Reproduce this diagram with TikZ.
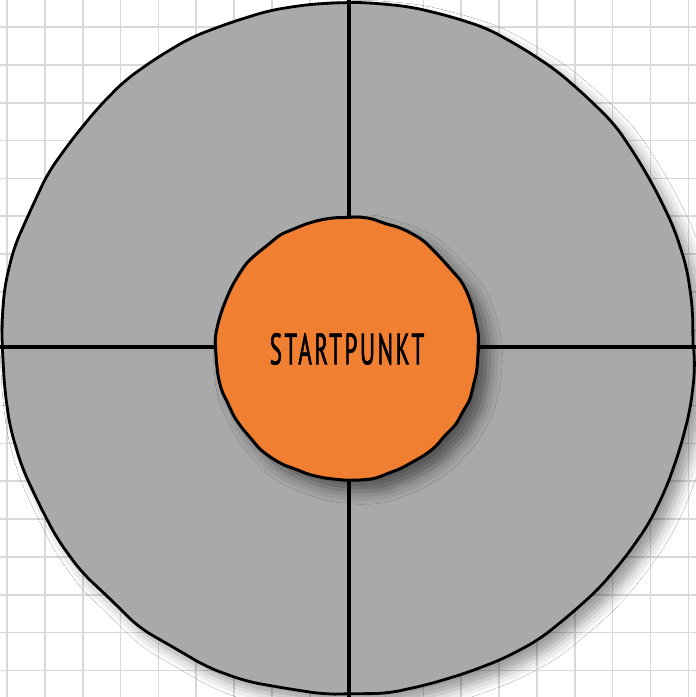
\documentclass[tikz,border=0pt]{standalone}
\usepackage{fontspec}
\usepackage{tikz}
\usetikzlibrary{decorations.pathmorphing,shadows.blur}
\newfontfamily\startfont[FakeStretch=0.52,FakeBold=1.2,LetterSpace=6]{PT Sans}
\definecolor{ringgray}{HTML}{A9A9A9}
\definecolor{startorange}{HTML}{F07F32}
\definecolor{gridgray}{HTML}{D9D9D9}

\begin{document}
\begin{tikzpicture}[
  x=1pt, y=-1pt,
  grid/.style={draw=gridgray, line width=1.6pt},
  ring/.style={draw, circle, fill=ringgray, line width=2.8pt,
               minimum size=690pt, inner sep=0pt,
               decorate, decoration={random steps, segment length=40pt, amplitude=1.6pt},
               rounded corners=14pt,
               blur shadow={shadow xshift=10pt, shadow yshift=-10pt,
                            shadow blur radius=12pt, shadow opacity=40}},
  core/.style={draw, circle, fill=startorange, line width=3pt,
               minimum size=262pt, inner sep=0pt,
               decorate, decoration={random steps, segment length=14pt, amplitude=1.2pt},
               rounded corners=5pt,
               font=\startfont\fontsize{44}{46}\selectfont,
               blur shadow={shadow xshift=11pt, shadow yshift=-11pt,
                            shadow blur radius=13pt, shadow opacity=50}},
  cross/.style={line width=4.4pt}
]
\pgfmathsetseed{7}
\useasboundingbox (0,0) rectangle (696,697);
\clip (0,0) rectangle (696,697);
% squared paper
\fill[white] (0,0) rectangle (696,697);
\foreach \i in {0,...,18}
  \draw[grid] ({7+37.85*\i},0) -- ({7+37.85*\i},697);
\foreach \i in {0,...,17}
  \draw[grid] (0,{27+37.85*\i}) -- (696,{27+37.85*\i});
\node[ring] (area) at (348,348) {};
\coordinate (top)    at (349,0);
\coordinate (bottom) at (349,697);
\coordinate (left)   at (0,347);
\coordinate (right)  at (696,347);
\draw[cross] (top)  -- (bottom);
\draw[cross] (left) -- (right);
\node[core] (start) at (347,349) {STARTPUNKT};
\end{tikzpicture}
\end{document}
